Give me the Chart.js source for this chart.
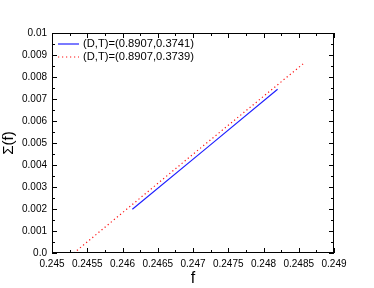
<!DOCTYPE html>
<html lang="EN">
    <head>
        <title>Sigma(f)</title>
        <meta charset="UTF-8">
        <script src="https://cdn.jsdelivr.net/npm/chart.js@4/dist/chart.umd.min.js"></script>
    </head>
    <body style="margin:0; background-color: white;">
        <div style="width:374px; height:288px; position:relative;">
            <canvas id="sChart" width="374" height="288"></canvas>
        </div>
        <script>
            // series
            let fRed = [0.24531, 0.2470, 0.24857];
            let sRed = [0.0, 0.00449, 0.00862];
            let fBlue = [0.24614, 0.2472, 0.24820];
            let sBlue = [0.00199, 0.00479, 0.00744];
            let labelBlue = "(D,T)=(0.8907,0.3741)";
            let labelRed = "(D,T)=(0.8907,0.3739)";
            let xTicks = [0.245, 0.2455, 0.246, 0.2465, 0.247, 0.2475, 0.248, 0.2485, 0.249];
            let yTicks = ["0.0", "0.001", "0.002", "0.003", "0.004", "0.005", "0.006", "0.007", "0.008", "0.009", "0.01"];

            let font = "'Liberation Sans', Arial, sans-serif";

            function pts(xs, ys) {
                return xs.map(function (x, i) { return {x: x, y: ys[i]}; });
            }

            // inward ticks on all four sides, plus frame and legend
            let frame = {
                id: 'frame',
                afterDraw: function (chart) {
                    let ctx = chart.ctx;
                    let a = chart.chartArea;
                    let xs = chart.scales.x, ys = chart.scales.y;
                    ctx.save();
                    ctx.strokeStyle = '#000';
                    ctx.lineWidth = 1;
                    ctx.strokeRect(a.left + 0.5, a.top + 0.5, a.right - a.left - 1, a.bottom - a.top - 1);
                    ctx.beginPath();
                    for (let v = 0.245; v <= 0.24901; v += 0.00025) {
                        let px = Math.round(xs.getPixelForValue(v)) + 0.5;
                        let major = Math.abs(Math.round(v / 0.0005) * 0.0005 - v) < 1e-7;
                        let len = major ? 5 : 3;
                        ctx.moveTo(px, a.bottom); ctx.lineTo(px, a.bottom - len);
                        ctx.moveTo(px, a.top); ctx.lineTo(px, a.top + len);
                    }
                    for (let v = 0; v <= 0.01001; v += 0.0005) {
                        let py = Math.round(ys.getPixelForValue(v)) + 0.5;
                        let major = Math.abs(Math.round(v / 0.001) * 0.001 - v) < 1e-7;
                        let len = major ? 5 : 3;
                        ctx.moveTo(a.left, py); ctx.lineTo(a.left + len, py);
                        ctx.moveTo(a.right, py); ctx.lineTo(a.right - len, py);
                    }
                    ctx.stroke();

                    // legend
                    ctx.font = "11.2px " + font;
                    ctx.textBaseline = 'middle';
                    ctx.fillStyle = '#000';
                    chart.data.datasets.forEach(function (ds, i) {
                        let y = a.top + 11 + i * 13;
                        ctx.beginPath();
                        ctx.strokeStyle = ds.borderColor;
                        ctx.lineWidth = ds.borderWidth;
                        ctx.setLineDash(ds.borderDash || []);
                        ctx.moveTo(a.left + 6, y); ctx.lineTo(a.left + 27, y);
                        ctx.stroke();
                        ctx.setLineDash([]);
                        ctx.fillText(ds.label, a.left + 31, y);
                    });
                    ctx.restore();
                }
            };

            let chartElement = new Chart("sChart", {
                type: "scatter",
                data: {
                    datasets: [{
                        label: labelBlue,
                        data: pts(fBlue, sBlue),
                        showLine: true,
                        borderColor: "#2020ff",
                        borderWidth: 1.2,
                        pointRadius: 0,
                        fill: false
                    }, {
                        label: labelRed,
                        data: pts(fRed, sRed),
                        showLine: true,
                        borderColor: "#ff1010",
                        borderWidth: 1.2,
                        borderDash: [1.2, 2.8],
                        pointRadius: 0,
                        fill: false
                    }]
                },
                options: {
                    responsive: false,
                    animation: false,
                    layout: { padding: { top: 33, right: 40, left: 0, bottom: 0 } },
                    plugins: {
                        legend: { display: false },
                        tooltip: { enabled: false }
                    },
                    scales: {
                        x: {
                            type: 'linear',
                            min: 0.245,
                            max: 0.249,
                            afterBuildTicks: function (s) {
                                s.ticks = xTicks.map(function (v) { return {value: v}; });
                            },
                            afterFit: function (s) { s.height = 35; },
                            grid: { display: false, drawTicks: false },
                            border: { display: false },
                            ticks: {
                                padding: 5,
                                maxRotation: 0,
                                autoSkip: false,
                                color: '#000',
                                font: { family: font, size: 10 },
                                callback: function (v) { return String(+v.toFixed(4)); }
                            },
                            title: {
                                display: true,
                                text: 'f',
                                color: '#000',
                                padding: { top: 0, bottom: 0 },
                                font: { family: font, size: 16 }
                            }
                        },
                        y: {
                            type: 'linear',
                            min: 0,
                            max: 0.01,
                            afterBuildTicks: function (s) {
                                s.ticks = yTicks.map(function (t) { return {value: parseFloat(t)}; });
                            },
                            afterFit: function (s) { s.width = 52; },
                            grid: { display: false, drawTicks: false },
                            border: { display: false },
                            ticks: {
                                padding: 5,
                                autoSkip: false,
                                color: '#000',
                                font: { family: font, size: 10 },
                                callback: function (v, i) { return yTicks[i]; }
                            },
                            title: {
                                display: true,
                                text: 'Σ(f)',
                                color: '#000',
                                padding: { top: 0, bottom: 2 },
                                font: { family: font, size: 15 }
                            }
                        }
                    }
                },
                plugins: [frame]
            });
        </script>
    </body>
</html>
